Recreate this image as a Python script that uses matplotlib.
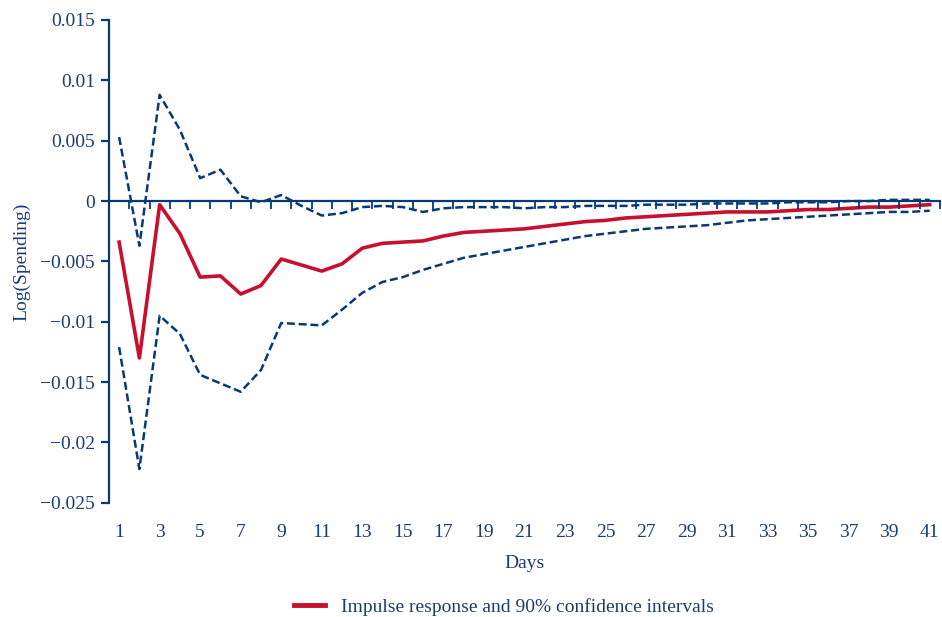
import matplotlib
matplotlib.use("Agg")
import matplotlib.pyplot as plt
import numpy as np

days = list(range(1, 42))
impulse = [-0.0034, -0.0130, -0.0003, -0.0027, -0.0063, -0.0062, -0.0077, -0.0070, -0.0048, -0.0053,
           -0.0058, -0.0052, -0.0039, -0.0035, -0.0034, -0.0033, -0.0029, -0.0026, -0.0025, -0.0024,
           -0.0023, -0.0021, -0.0019, -0.0017, -0.0016, -0.0014, -0.0013, -0.0012, -0.0011, -0.0010,
           -0.0009, -0.0009, -0.0009, -0.0008, -0.0007, -0.0007, -0.0006, -0.0005, -0.0005, -0.0004,
           -0.0003]
upper = [0.0053, -0.0037, 0.0088, 0.0059, 0.0019, 0.0026, 0.0004, -0.0001, 0.0005, -0.0004,
         -0.0012, -0.0010, -0.0005, -0.0004, -0.0005, -0.0009, -0.0006, -0.0005, -0.0005, -0.0005,
         -0.0006, -0.0005, -0.0005, -0.0004, -0.0004, -0.0004, -0.0003, -0.0003, -0.0003, -0.0002,
         -0.0002, -0.0002, -0.0002, -0.0001, -0.0001, -0.0001, 0.0000, 0.0000, 0.0001, 0.0001,
         0.0001]
lower = [-0.0121, -0.0222, -0.0095, -0.0110, -0.0144, -0.0151, -0.0158, -0.0140, -0.0101, -0.0102,
         -0.0103, -0.0090, -0.0076, -0.0067, -0.0063, -0.0057, -0.0052, -0.0047, -0.0044, -0.0041,
         -0.0038, -0.0035, -0.0032, -0.0029, -0.0027, -0.0025, -0.0023, -0.0022, -0.0021, -0.0020,
         -0.0018, -0.0016, -0.0015, -0.0014, -0.0013, -0.0012, -0.0011, -0.0010, -0.0009, -0.0009,
         -0.0008]
yticks = [0.015, 0.01, 0.005, 0, -0.005, -0.01, -0.015, -0.02, -0.025]
ytick_labels = ["0.015", "0.01", "0.005", "0", "\u22120.005", "\u22120.01", "\u22120.015", "\u22120.02", "\u22120.025"]
xtick_days = days[::2]

NAVY = "#073A75"
TEXT = "#1A3E70"
RED = "#C8102E"
FS = 14

plt.rcParams['font.family'] = ['Liberation Serif', 'DejaVu Serif']

fig = plt.figure(figsize=(9.42, 6.17), dpi=100)
ax = fig.add_axes([0.1157, 0.185, 0.882, 0.7826])

ax.plot(days, upper, color=NAVY, lw=1.8, ls=(0, (3.2, 1.5)), zorder=3)
ax.plot(days, lower, color=NAVY, lw=1.8, ls=(0, (3.2, 1.5)), zorder=3)
ax.plot(days, impulse, color=RED, lw=2.6, zorder=4,
        label="Impulse response and 90% confidence intervals")

ax.set_xlim(0.5, 41.5)
ax.set_ylim(-0.025, 0.015)

for s in ['top', 'right', 'bottom']:
    ax.spines[s].set_visible(False)
ax.spines['left'].set_color(NAVY)
ax.spines['left'].set_linewidth(1.6)

ax.set_yticks(yticks)
ax.set_yticklabels(ytick_labels)
ax.tick_params(axis='y', direction='out', length=6, width=1.6, color=NAVY,
               labelcolor=TEXT, labelsize=FS, pad=4)

ax.set_xticks(xtick_days)
ax.set_xticklabels([str(d) for d in xtick_days])
ax.tick_params(axis='x', length=0, labelcolor=TEXT, labelsize=FS, pad=15)

ax.set_ylabel("Log(Spending)", color=TEXT, fontsize=FS, labelpad=7)
ax.set_xlabel("Days", color=TEXT, fontsize=FS, labelpad=10)

# zero axis with category tick marks
ax2 = ax.twiny()
ax2.set_xlim(ax.get_xlim())
for s in ['top', 'right', 'left']:
    ax2.spines[s].set_visible(False)
ax2.xaxis.set_ticks_position('bottom')
ax2.spines['bottom'].set_position(('data', 0))
ax2.spines['bottom'].set_color(NAVY)
ax2.spines['bottom'].set_linewidth(1.6)
ax2.set_xticks(np.arange(0.5, 42.0, 1.0))
ax2.set_xticklabels([])
ax2.tick_params(axis='x', direction='out', length=6, width=1.3, color=NAVY)

leg = ax.legend(loc='upper center', bbox_to_anchor=(0.475, -0.197), frameon=False,
                fontsize=FS, handlelength=1.6, borderaxespad=0, borderpad=0)
for t in leg.get_texts():
    t.set_color(TEXT)
for h in leg.get_lines():
    h.set_linewidth(3.5)

fig.savefig("out.png", dpi=100)
